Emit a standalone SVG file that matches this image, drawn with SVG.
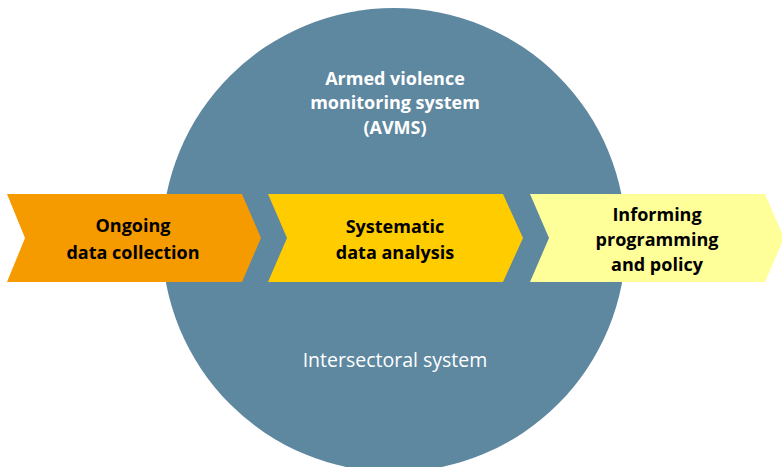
<svg xmlns="http://www.w3.org/2000/svg" width="782" height="467" viewBox="0 0 782 467">
<style>
.t{font-family:"Open Sans","Liberation Sans",sans-serif;font-weight:bold;font-size:18px;text-anchor:middle;fill:#000}
.w{font-family:"Open Sans","Liberation Sans",sans-serif;font-size:18px;text-anchor:middle;fill:#fff}
.b{font-weight:bold}
.l{font-size:19.5px}
</style>
<rect width="782" height="467" fill="#fff"/>
<g id="avms">
<circle cx="394" cy="240" r="232" fill="#5E87A0"/>
<text class="w b" x="395" y="85">Armed violence</text>
<text class="w b" x="395" y="109">monitoring system</text>
<text class="w b" x="395" y="134">(AVMS)</text>
<text class="w l" x="395" y="367">Intersectoral system</text>
</g>
<g id="collection">
<polygon points="7,194 242,194 261,238 242,282 7,282 25,238" fill="#F59B00"/>
<text class="t" x="133" y="232">Ongoing</text>
<text class="t" x="133" y="259">data collection</text>
</g>
<g id="analysis">
<polygon points="268,194 503,194 523,238 503,282 268,282 287,238" fill="#FFCC00"/>
<text class="t" x="395" y="233">Systematic</text>
<text class="t" x="395" y="259">data analysis</text>
</g>
<g id="informing">
<polygon points="530,194 765,194 784,238 765,282 530,282 549,238" fill="#FFFF99"/>
<text class="t" x="657" y="221">Informing</text>
<text class="t" x="657" y="246">programming</text>
<text class="t" x="657" y="271">and policy</text>
</g>
<g id="connectors"/>
</svg>
